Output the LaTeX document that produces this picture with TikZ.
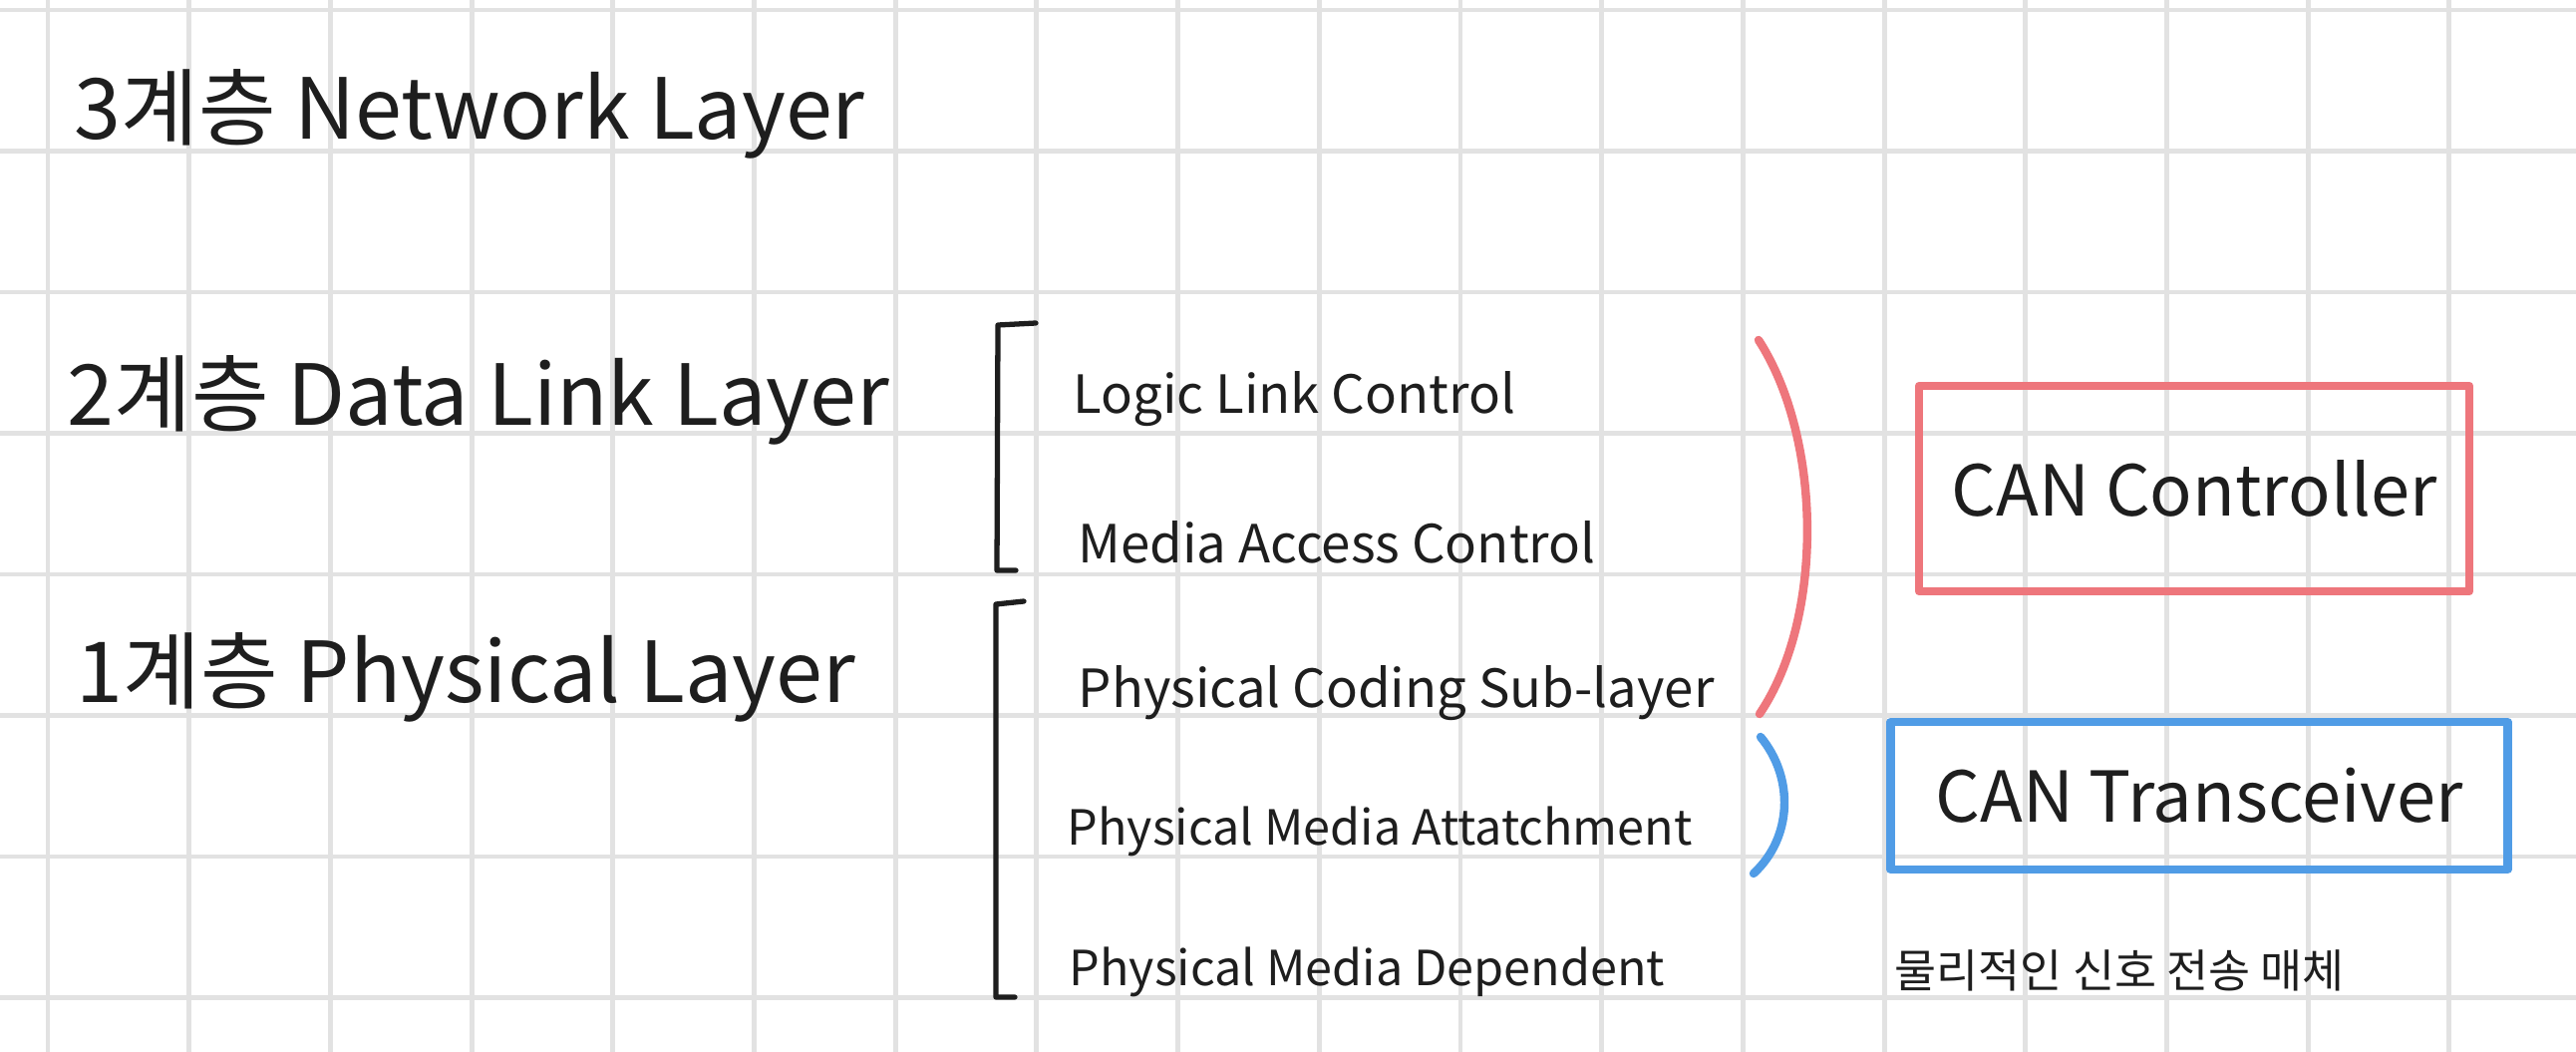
\documentclass[tikz,border=0pt]{standalone}
\usepackage{fontspec}
\setmainfont{Noto Sans CJK KR}
\definecolor{ink}{RGB}{30,30,30}
\definecolor{gridc}{RGB}{226,226,226}
\definecolor{pen red}{RGB}{238,118,124}
\definecolor{pen blue}{RGB}{80,156,230}

\begin{document}
\begin{tikzpicture}[x=0.01cm, y=-0.01cm,
        grid line/.style={gridc, line width=1.4pt},
        lay/.style={anchor=base west, inner sep=0pt, text=ink, font=\fontsize{24}{28}\selectfont},
        sub/.style={anchor=base west, inner sep=0pt, text=ink, font=\fontsize{15}{18}\selectfont},
        subs/.style={sub, font=\fontsize{13.8}{17}\selectfont},
        chip/.style={draw, line width=2.4pt, font=\fontsize{20}{24}\selectfont, line join=round},
        brk/.style={ink, line width=1.5pt, line cap=round, line join=round},
        paren/.style={line width=2.4pt, line cap=round}]

      \useasboundingbox (0,0) rectangle (2584,1055);
      \fill[white] (0,0) rectangle (2584,1055);

      % squared paper
      \foreach \gx in {0,...,17}
        \draw[grid line] ({48+141.7*\gx},0) -- ({48+141.7*\gx},1055);
      \foreach \gy in {0,...,7}
        \draw[grid line] (0,{10+141.5*\gy}) -- (2584,{10+141.5*\gy});

      % OSI layers
      \node[lay] (l3) at (74,140) {3계층 Network Layer};
      \node[lay] (l2) at (67,427) {2계층 Data Link Layer};
      \node[lay] (l1) at (76,705) {1계층 Physical Layer};

      % sub-layers
      \node[sub] (llc) at (1076,415) {Logic Link Control};
      \node[sub] (mac) at (1081,565) {Media Access Control};
      \node[sub] (pcs) at (1081,709) {Physical Coding Sub-layer};
      \node[subs] (pma) at (1070,847) {Physical Media Attatchment};
      \node[subs] (pmd) at (1072,988) {Physical Media Dependent};

      % brackets for layer 2 and layer 1
      \draw[brk] (1039,324) -- (1001,326) -- (1000,572) -- (1019,572);
      \draw[brk] (1027,603) -- (999,606) -- (999,1000) -- (1018,1000);

      % parts
      \node[chip, pen red, text=ink, minimum width=552*0.01cm, minimum height=206*0.01cm]
        (ctrl) at (2201,490) {CAN Controller};
      \node[chip, pen blue, text=ink, minimum width=619*0.01cm, minimum height=148*0.01cm]
        (trx) at (2206,798) {CAN Transceiver};
      \node[anchor=base west, inner sep=0pt, text=ink, font=\fontsize{13}{15}\selectfont]
        (medium) at (1900,990) {물리적인 신호 전송 매체};

      \draw[paren, pen red] (1764,341) .. controls (1828,440) and (1830,620) .. (1765,716);
      \draw[paren, pen blue] (1766,739) .. controls (1800,780) and (1798,840) .. (1759,876);
    \end{tikzpicture}
\end{document}
